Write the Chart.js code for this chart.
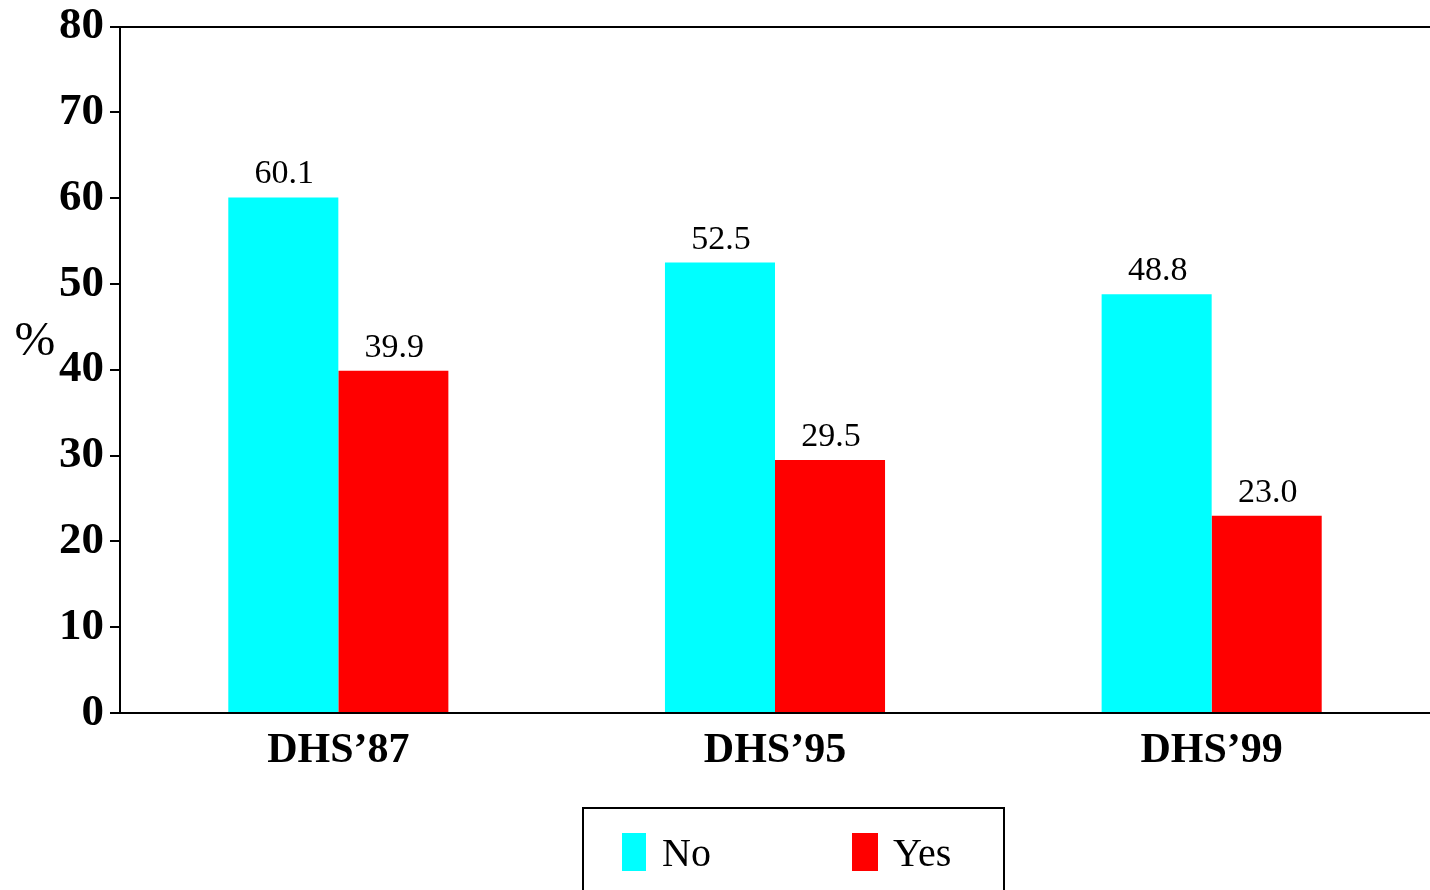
<!DOCTYPE html>
<html>
<head>
<meta charset="utf-8">
<script src="https://cdn.jsdelivr.net/npm/chart.js@4.4.1/dist/chart.umd.min.js"></script>
<style>
  html, body { margin: 0; padding: 0; background: #fff; }
  #wrap { width: 1430px; height: 890px; position: relative; }
</style>
</head>
<body>
<div id="wrap"><canvas id="c" width="1430" height="890"></canvas></div>
<script>
const categories = ["DHS\u201987", "DHS\u201995", "DHS\u201999"];
const seriesNames = ["No", "Yes"];
const noValues = [60.1, 52.5, 48.8];
const yesValues = [39.9, 29.5, 23.0];
const yTicks = [0, 10, 20, 30, 40, 50, 60, 70, 80];
const yAxisLabel = "%";

const SERIF = "'Liberation Serif', 'Times New Roman', Times, serif";

const valueLabels = {
  id: 'valueLabels',
  afterDatasetsDraw(chart) {
    const ctx = chart.ctx;
    ctx.save();
    ctx.font = "34px " + SERIF;
    ctx.fillStyle = "#000";
    ctx.textAlign = "center";
    ctx.textBaseline = "alphabetic";
    chart.data.datasets.forEach((ds, di) => {
      const meta = chart.getDatasetMeta(di);
      meta.data.forEach((bar, i) => {
        ctx.fillText(ds.data[i].toFixed(1), bar.x + 1, bar.y - 14);
      });
    });
    ctx.restore();
  }
};

const extras = {
  id: 'extras',
  afterDraw(chart) {
    const ctx = chart.ctx;
    ctx.save();
    ctx.font = "49px " + SERIF;
    ctx.fillStyle = "#000";
    ctx.textAlign = "center";
    ctx.textBaseline = "middle";
    ctx.fillText(yAxisLabel, 35, 342);
    ctx.strokeStyle = "#000";
    ctx.lineWidth = 2;
    ctx.strokeRect(583, 808, 421, 100);
    const items = [
      {x: 622, w: 24, tx: 662},
      {x: 852, w: 26, tx: 893}
    ];
    ctx.font = "40px " + SERIF;
    ctx.textAlign = "left";
    ctx.textBaseline = "alphabetic";
    chart.data.datasets.forEach((ds, i) => {
      const it = items[i];
      ctx.fillStyle = ds.backgroundColor;
      ctx.fillRect(it.x, 833, it.w, 38);
      ctx.fillStyle = "#000";
      ctx.fillText(ds.label, it.tx, 866);
    });
    ctx.restore();
  }
};

new Chart(document.getElementById('c'), {
  type: 'bar',
  data: {
    labels: categories,
    datasets: [
      { label: seriesNames[0], data: noValues, backgroundColor: "#00ffff", borderWidth: 0 },
      { label: seriesNames[1], data: yesValues, backgroundColor: "#ff0000", borderWidth: 0 }
    ]
  },
  options: {
    responsive: false,
    animation: false,
    devicePixelRatio: 1,
    layout: { padding: { top: 0, left: 0, right: 0, bottom: 117 } },
    plugins: {
      legend: { display: false },
      tooltip: { enabled: false },
      title: { display: false }
    },
    datasets: {
      bar: { categoryPercentage: 0.504, barPercentage: 1.0 }
    },
    scales: {
      x: {
        offset: true,
        grid: { display: false, drawTicks: false },
        border: { display: true, color: "#000", width: 2 },
        ticks: {
          color: "#000",
          font: { family: SERIF, size: 42, weight: "bold" },
          padding: 13,
          maxRotation: 0
        },
        afterFit(s) { s.height = 60; }
      },
      y: {
        min: 0,
        max: 80,
        afterBuildTicks(s) { s.ticks = yTicks.map(v => ({ value: v })); },
        grid: {
          drawOnChartArea: true,
          color: c => (c.tick && c.tick.value === 80) ? "#000" : "rgba(0,0,0,0)",
          lineWidth: 2,
          tickColor: "#000",
          tickWidth: 2,
          tickLength: 10
        },
        border: { display: true, color: "#000", width: 2 },
        ticks: {
          color: "#000",
          font: { family: SERIF, size: 45, weight: "bold", lineHeight: 0.92 },
          padding: 6
        },
        afterFit(s) { s.width = 120; }
      }
    }
  },
  plugins: [valueLabels, extras]
});
</script>
</body>
</html>
